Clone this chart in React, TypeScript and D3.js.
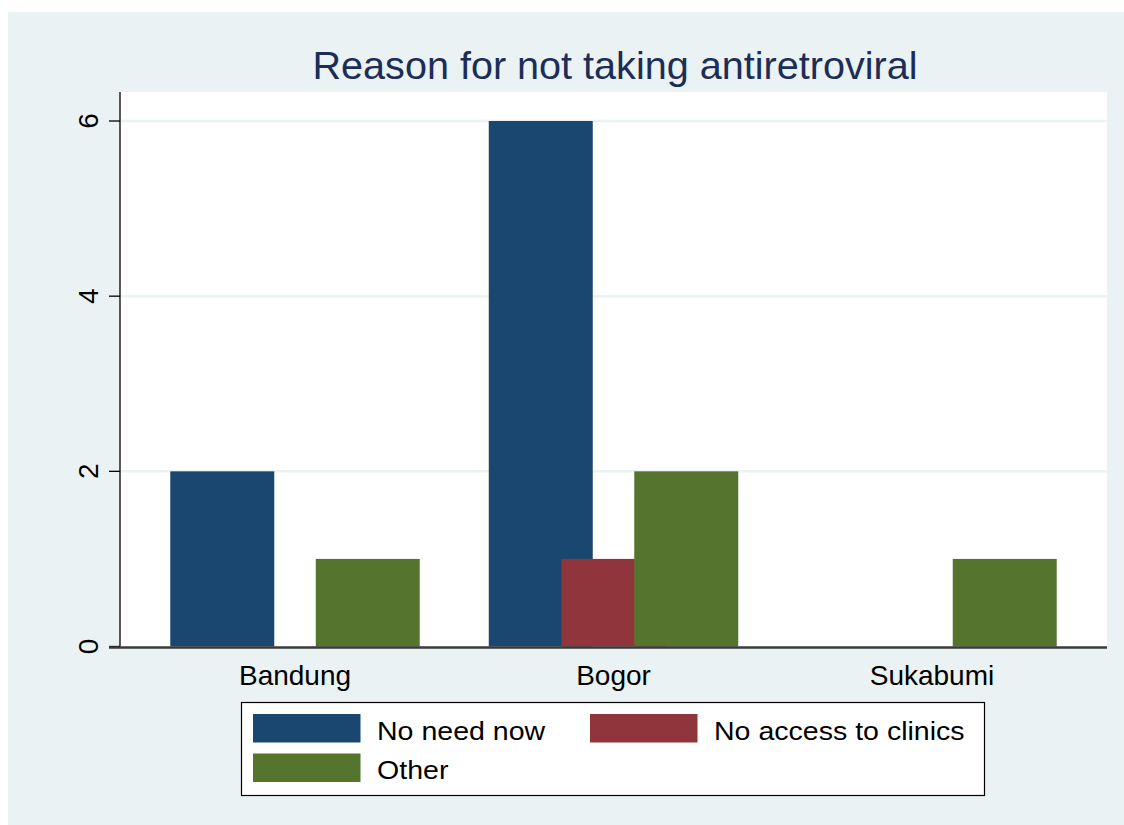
import React from 'react';
import * as d3 from 'd3';

const categories = ['Bandung', 'Bogor', 'Sukabumi'];
const seriesNames = ['No need now', 'No access to clinics', 'Other'];
const noNeedNow = [2, 6, 0];
const noAccess = [0, 1, 0];
const other = [1, 2, 1];
const yTicks = [0, 2, 4, 6];

const colors = ['#1a476f', '#90353b', '#55752f'];
const FONT = '"Liberation Sans", Arial, Helvetica, sans-serif';

export default function App() {
  const W = 1124;
  const H = 825;
  const plot = { left: 120, right: 1107, top: 92, bottom: 646.5 };

  const values = [noNeedNow, noAccess, other];

  const x0 = d3.scaleBand<string>()
    .domain(categories)
    .range([plot.left, plot.right])
    .paddingInner(0)
    .paddingOuter(0.0495);
  const bw = x0.bandwidth();
  const x1 = d3.scalePoint<string>()
    .domain(seriesNames)
    .range([-0.2284 * bw, 0.2284 * bw]);
  const barW = 0.3265 * bw;

  const y = d3.scaleLinear().domain([0, 6]).range([plot.bottom, 121]);

  // bars drawn series by series so later series sit on top where they overlap
  const bars = seriesNames.flatMap((s, si) =>
    categories.map((c, ci) => ({ s, si, c, v: values[si][ci] }))
  ).filter(d => d.v > 0);

  const legendItems = [
    { name: seriesNames[0], color: colors[0], x: 253, y: 714 },
    { name: seriesNames[1], color: colors[1], x: 590, y: 714 },
    { name: seriesNames[2], color: colors[2], x: 253, y: 753.5 },
  ];

  return (
    <div style={{ position: 'absolute', left: 0, top: 0 }}>
      <svg width={W} height={H} style={{ display: 'block' }} fontFamily={FONT}>
        <rect x={0} y={0} width={W} height={H} fill="#ffffff" />
        <rect x={8} y={12} width={W - 8} height={H - 12} fill="#eaf2f3" />

        {/* plot region */}
        <rect x={plot.left} y={plot.top} width={plot.right - plot.left} height={plot.bottom - plot.top} fill="#ffffff" />

        {/* grid */}
        {yTicks.filter(t => t > 0).map(t => (
          <line key={t} x1={plot.left} x2={plot.right} y1={y(t)} y2={y(t)} stroke="#eaf2f3" strokeWidth={2.5} />
        ))}

        {/* bars */}
        {bars.map(d => {
          const cx = x0(d.c)! + bw / 2 + x1(d.s)!;
          return (
            <rect
              key={`${d.s}-${d.c}`}
              x={cx - barW / 2}
              y={y(d.v)}
              width={barW}
              height={y(0) - y(d.v)}
              fill={colors[d.si]}
            />
          );
        })}

        {/* y axis */}
        <line x1={plot.left} x2={plot.left} y1={plot.top} y2={plot.bottom} stroke="#000" strokeWidth={1.3} />
        {yTicks.map(t => (
          <g key={t}>
            <line x1={109} x2={plot.left} y1={y(t)} y2={y(t)} stroke="#000" strokeWidth={1.3} />
            <text
              transform={`translate(98,${y(t)}) rotate(-90)`}
              textAnchor="middle"
              fontSize={28}
              fill="#000"
            >{t}</text>
          </g>
        ))}

        {/* x axis */}
        <line x1={109} x2={plot.right} y1={plot.bottom + 1} y2={plot.bottom + 1} stroke="#3a3a3a" strokeWidth={2.5} />
        {categories.map(c => (
          <text key={c} x={x0(c)! + bw / 2} y={685} textAnchor="middle" fontSize={28} fill="#000">{c}</text>
        ))}

        {/* title */}
        <text x={615} y={79} textAnchor="middle" fontSize={39.6} fill="#1c2d57">
          Reason for not taking antiretroviral
        </text>

        {/* legend */}
        <rect x={241.5} y={702.5} width={743} height={93} fill="#ffffff" stroke="#000" strokeWidth={1.2} />
        {legendItems.map(it => (
          <g key={it.name}>
            <rect x={it.x} y={it.y} width={107.5} height={28.5} fill={it.color} />
            <text
              transform={`translate(${it.x + 124},${it.y + 25.5}) scale(1.115,1)`}
              fontSize={25.6}
              fill="#000"
            >{it.name}</text>
          </g>
        ))}
      </svg>
    </div>
  );
}
